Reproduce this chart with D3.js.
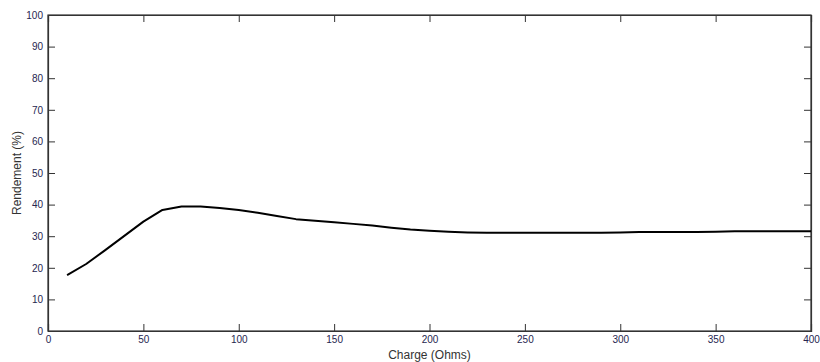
<!DOCTYPE html>
<html><head><meta charset="utf-8">
<script src="https://cdn.jsdelivr.net/npm/d3@7"></script>
<style>body{margin:0;background:#fff}svg{display:block}</style>
</head><body><svg id="c" width="820" height="362"></svg>
<script>
const xValues = [10,20,30,40,50,60,70,80,90,100,110,120,130,140,150,160,170,180,190,200,210,220,230,240,250,260,270,280,290,300,310,320,330,340,350,360,370,380,390,400];
const yValues = [17.7,21.2,25.6,30.1,34.6,38.3,39.4,39.4,38.9,38.3,37.4,36.4,35.4,34.9,34.4,33.9,33.4,32.7,32.1,31.7,31.4,31.2,31.1,31.1,31.1,31.1,31.1,31.1,31.1,31.2,31.3,31.3,31.3,31.3,31.4,31.6,31.6,31.6,31.6,31.6];
const xTicks = [0,50,100,150,200,250,300,350,400];
const yTicks = [0,10,20,30,40,50,60,70,80,90,100];
const xLabel = "Charge (Ohms)";
const yLabel = "Rendement (%)";

const L=48, R=811, T=15, B=331;
const svg=d3.select("#c");
const x=d3.scaleLinear().domain([0,400]).range([L,R]);
const y=d3.scaleLinear().domain([0,100]).range([B,T]);
const font="'Liberation Sans', Arial, sans-serif";
const tickCol="#333";
const labCol="#262650";

svg.append("rect").attr("x",L).attr("y",T).attr("width",R-L).attr("height",B-T)
  .attr("fill","#fff").attr("stroke","#333").attr("stroke-width",1.2);

const gx=svg.append("g").attr("transform",`translate(0,${B})`)
  .call(d3.axisBottom(x).tickValues(xTicks).tickSize(-7).tickPadding(5).tickFormat(d3.format("d")));
const gxt=svg.append("g").attr("transform",`translate(0,${T})`)
  .call(d3.axisTop(x).tickValues(xTicks).tickSize(-7).tickFormat(""));
const gy=svg.append("g").attr("transform",`translate(${L},0)`)
  .call(d3.axisLeft(y).tickValues(yTicks).tickSize(-7).tickPadding(5).tickFormat(d3.format("d")));
const gyr=svg.append("g").attr("transform",`translate(${R},0)`)
  .call(d3.axisRight(y).tickValues(yTicks).tickSize(-7).tickFormat(""));
[gx,gxt,gy,gyr].forEach(g=>{
  g.select(".domain").attr("stroke",tickCol).attr("stroke-width",1.2);
  g.selectAll(".tick line").attr("stroke",tickCol).attr("stroke-width",1);
  g.selectAll("text").attr("fill",labCol).attr("font-family",font).attr("font-size",10);
});

svg.append("path").datum(xValues.map((v,i)=>[v,yValues[i]]))
  .attr("fill","none").attr("stroke","#000").attr("stroke-width",2)
  .attr("stroke-linejoin","round")
  .attr("d",d3.line().x(d=>x(d[0])).y(d=>y(d[1])));

svg.append("text").attr("x",(L+R)/2).attr("y",359).attr("text-anchor","middle")
  .attr("font-family",font).attr("font-size",12).attr("fill","#333").text(xLabel);
svg.append("text").attr("transform",`translate(21,${(T+B)/2}) rotate(-90)`)
  .attr("text-anchor","middle").attr("font-family",font).attr("font-size",12)
  .attr("fill","#333").text(yLabel);
</script></body></html>
